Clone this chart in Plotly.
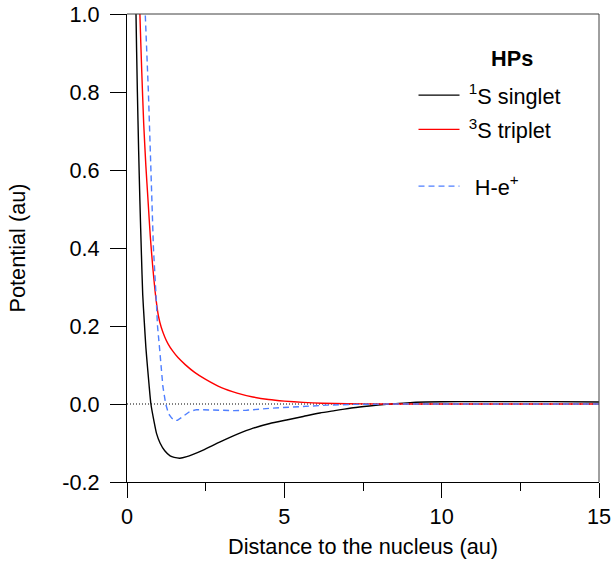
import plotly.graph_objects as go

# ---- data ----
r_singlet = [0.25, 0.286, 0.33, 0.37, 0.41, 0.46, 0.50, 0.55, 0.60, 0.65, 0.70, 0.76, 0.86, 0.94,
             1.05, 1.20, 1.37, 1.50, 1.68, 1.90, 2.10, 2.42, 2.96, 3.49, 4.01, 4.54, 5.07, 5.60,
             6.13, 6.60, 7.19, 7.70, 8.25, 8.90, 9.50, 10.5, 12.0, 13.5, 15.0]
v_singlet = [1.30, 1.00, 0.80, 0.65, 0.52, 0.38, 0.28, 0.21, 0.145, 0.096, 0.05, 0.0, -0.045, -0.076,
             -0.100, -0.120, -0.133, -0.137, -0.139, -0.135, -0.129, -0.118, -0.097, -0.078, -0.062,
             -0.050, -0.041, -0.032, -0.023, -0.017, -0.0095, -0.005, -0.001, 0.003, 0.005, 0.006,
             0.006, 0.006, 0.005]

r_triplet = [0.38, 0.41, 0.47, 0.53, 0.60, 0.67, 0.74, 0.82, 0.92, 1.00, 1.09, 1.20, 1.30, 1.45,
             1.62, 1.85, 2.15, 2.50, 3.00, 3.50, 4.00, 4.50, 5.00, 5.60, 6.20, 7.00, 8.00, 10.0, 15.0]
v_triplet = [1.15, 1.00, 0.85, 0.72, 0.61, 0.52, 0.43, 0.35, 0.27, 0.225, 0.196, 0.172, 0.155, 0.136,
             0.119, 0.101, 0.081, 0.063, 0.042, 0.028, 0.018, 0.0115, 0.0075, 0.0042, 0.002, 0.0007,
             0.0, 0.0, 0.0]

r_hep = [0.55, 0.58, 0.68, 0.75, 0.79, 0.84, 0.93, 0.97, 1.04, 1.10, 1.14, 1.23, 1.32, 1.42, 1.52,
         1.60, 1.79, 2.00, 2.21, 2.50, 2.96, 3.40, 3.80, 4.54, 5.39, 6.35, 7.20, 8.50, 15.0]
v_hep = [1.15, 1.00, 0.80, 0.60, 0.50, 0.40, 0.267, 0.20, 0.138, 0.08, 0.045, 0.0, -0.025, -0.036,
         -0.042, -0.042, -0.032, -0.019, -0.0145, -0.0145, -0.016, -0.017, -0.016, -0.011, -0.007,
         -0.003, -0.001, 0.0, 0.0]

x_ticks = [0, 5, 10, 15]
x_ticktext = ["0", "5", "10", "15"]
y_ticks = [-0.2, 0.0, 0.2, 0.4, 0.6, 0.8, 1.0]
y_ticktext = ["-0.2", "0.0", "0.2", "0.4", "0.6", "0.8", "1.0"]

FONT = "Liberation Sans, Arial, sans-serif"
FS = 21.7

fig = go.Figure()
fig.add_trace(go.Scatter(x=r_singlet, y=v_singlet, mode="lines", name="\u2009<sup>1</sup>S singlet",
                         line=dict(color="black", width=1.4, shape="spline", smoothing=0.6),
                         legend="legend", legendgroup="a"))
fig.add_trace(go.Scatter(x=r_triplet, y=v_triplet, mode="lines", name="\u2009<sup>3</sup>S triplet",
                         line=dict(color="#ff0000", width=1.4, shape="spline", smoothing=0.6),
                         legend="legend", legendgroup="b"))
fig.add_trace(go.Scatter(x=r_hep, y=v_hep, mode="lines", name="\u00a0\u2009H-e<sup>+</sup>",
                         line=dict(color="#4f7fff", width=1.4, dash="6px,4px"),
                         legend="legend2"))

# dotted zero line
fig.add_shape(type="line", xref="paper", yref="y", x0=0, x1=1, y0=0, y1=0,
              line=dict(color="black", width=1, dash="1px,2px"), layer="below")
# top / right frame
fig.add_shape(type="line", xref="paper", yref="paper", x0=0, x1=1, y0=1, y1=1,
              line=dict(color="#404040", width=1))
fig.add_shape(type="line", xref="paper", yref="paper", x0=1, x1=1, y0=0, y1=1,
              line=dict(color="#404040", width=1))

# legend heading
fig.add_annotation(text="<b>HPs</b>", xref="paper", yref="paper",
                   x=(512 - 127) / 472, y=(482 - 58) / 468, showarrow=False,
                   xanchor="center", yanchor="middle", font=dict(size=FS, family=FONT))

fig.update_layout(
    width=613, height=561,
    margin=dict(l=127, r=14, t=14, b=79, autoexpand=False),
    paper_bgcolor="white", plot_bgcolor="white",
    font=dict(family=FONT, size=FS, color="black"),
    legend=dict(x=0.607, y=0.8707, xanchor="left", yanchor="top",
                font=dict(size=FS), bgcolor="rgba(0,0,0,0)", tracegroupgap=3,
                itemwidth=41),
    legend2=dict(x=0.607, y=0.6763, xanchor="left", yanchor="top",
                 font=dict(size=FS), bgcolor="rgba(0,0,0,0)", itemwidth=41),
    xaxis=dict(range=[0, 15], showline=True, linecolor="black", linewidth=1,
               ticks="outside", ticklen=15, tickwidth=1, tickcolor="black",
               tickvals=x_ticks, ticktext=x_ticktext, showgrid=False, zeroline=False,
               tickfont=dict(size=FS), automargin=False,
               minor=dict(ticks="outside", ticklen=8, dtick=2.5, tick0=0, tickcolor="black",
                          showgrid=False),
               title=dict(text="Distance to the nucleus (au)", standoff=10, font=dict(size=FS))),
    yaxis=dict(range=[-0.2, 1.0], showline=True, linecolor="black", linewidth=1,
               ticks="outside", ticklen=16, tickwidth=1, tickcolor="black",
               tickvals=y_ticks, ticktext=y_ticktext, showgrid=False, zeroline=False,
               tickfont=dict(size=FS), automargin=False, ticklabelstandoff=6,
               title=dict(text="Potential (au)", standoff=30, font=dict(size=FS))),
)

fig.write_html("out.html", config={"displayModeBar": False},
               post_script="document.body.style.margin='0';document.body.style.overflow='hidden';")
